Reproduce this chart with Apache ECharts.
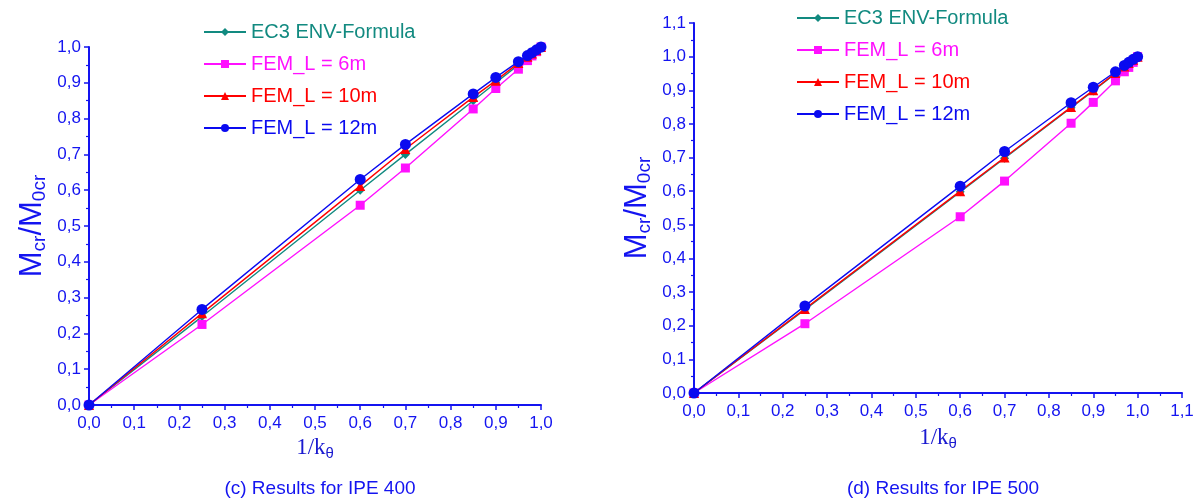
<!DOCTYPE html>
<html>
<head>
<meta charset="utf-8">
<script src="https://cdn.jsdelivr.net/npm/echarts@6/dist/echarts.min.js"></script>
<style>
  html, body { margin: 0; padding: 0; background: #fff; }
  #chart { width: 1198px; height: 502px; }
</style>
</head>
<body>
<div id="chart"></div>
<script>
// Normalised rotational stiffness 1/kθ
const kInv = [0, 0.25, 0.6, 0.7, 0.85, 0.9, 0.95, 0.97, 0.98, 0.99, 1.0];

// IPE 400 — Mcr/M0cr
const ipe400_ec3  = [0, 0.247, 0.600, 0.700, 0.850, 0.900, 0.950, 0.970, 0.980, 0.990, 1.0];
const ipe400_fem6 = [0, 0.225, 0.558, 0.662, 0.827, 0.884, 0.938, 0.962, 0.975, 0.987, 1.0];
const ipe400_fem10 = [0, 0.256, 0.612, 0.715, 0.860, 0.906, 0.955, 0.973, 0.982, 0.991, 1.0];
const ipe400_fem12 = [0, 0.267, 0.630, 0.728, 0.869, 0.915, 0.959, 0.976, 0.984, 0.992, 1.0];

// IPE 500 — Mcr/M0cr
const ipe500_ec3  = [0, 0.248, 0.598, 0.698, 0.848, 0.898, 0.950, 0.970, 0.980, 0.990, 1.0];
const ipe500_fem6 = [0, 0.206, 0.524, 0.630, 0.802, 0.864, 0.928, 0.955, 0.968, 0.983, 1.0];
const ipe500_fem10 = [0, 0.250, 0.600, 0.700, 0.850, 0.900, 0.951, 0.971, 0.981, 0.991, 1.0];
const ipe500_fem12 = [0, 0.259, 0.615, 0.718, 0.863, 0.909, 0.955, 0.974, 0.983, 0.992, 1.0];

const seriesNames = ['EC3 ENV-Formula', 'FEM_L = 6m', 'FEM_L = 10m', 'FEM_L = 12m'];
const captions = ['(c) Results for IPE 400', '(d) Results for IPE 500'];

const COLORS = ['#128a80', '#ff10ff', '#ff0000', '#0a0af0'];
const SYMBOLS = ['diamond', 'rect', 'triangle', 'circle'];
const SYMBOL_SIZE = [9, 9, 10, 11];
const BLUE = '#1414f0';
const FONT = '"Liberation Sans", Arial, sans-serif';

const pair = (ys) => kInv.map((x, i) => [x, ys[i]]);
const comma = (v) => v.toFixed(1).replace('.', ',');

function makeAxes(idx, max, xGap) {
  const common = {
    gridIndex: idx,
    min: 0, max: max, interval: 0.1,
    axisLine: { show: true, onZero: false, lineStyle: { color: BLUE, width: 2 } },
    axisTick: { show: true, inside: false, length: 5, lineStyle: { color: BLUE, width: 1.5 } },
    minorTick: { show: true, splitNumber: 2, length: 3, lineStyle: { color: BLUE, width: 1.2 } },
    splitLine: { show: false },
    axisLabel: { color: BLUE, fontFamily: FONT, fontSize: 17, formatter: comma }
  };
  const x = Object.assign({}, common, {
    type: 'value',
    name: '{n|1/k}{t|θ}',
    nameLocation: 'middle',
    nameGap: xGap,
    nameTextStyle: {
      rich: {
        n: { fontFamily: '"Liberation Serif", "Times New Roman", serif', fontSize: 23, color: '#1a1ad0', lineHeight: 26 },
        t: { fontFamily: FONT, fontSize: 15, color: '#1a1ad0', lineHeight: 14, verticalAlign: 'bottom' }
      }
    },
    axisLabel: Object.assign({}, common.axisLabel, { margin: 10 })
  });
  const y = Object.assign({}, common, {
    type: 'value',
    name: '{m|M}{s|cr}{m|/M}{s|0cr}',
    nameLocation: 'middle',
    nameRotate: 90,
    nameGap: 40,
    nameTextStyle: {
      rich: {
        m: { fontFamily: FONT, fontSize: 31, color: BLUE, lineHeight: 34 },
        s: { fontFamily: FONT, fontSize: 19, color: BLUE, lineHeight: 17, verticalAlign: 'bottom' }
      }
    },
    axisLabel: Object.assign({}, common.axisLabel, { margin: 8 })
  });
  return { x, y };
}

const a0 = makeAxes(0, 1.0, 28);
const a1 = makeAxes(1, 1.1, 32);

function makeSeries(idx, datasets) {
  return datasets.map((ys, i) => ({
    type: 'line',
    name: seriesNames[i],
    xAxisIndex: idx, yAxisIndex: idx,
    data: pair(ys),
    symbol: SYMBOLS[i],
    symbolSize: SYMBOL_SIZE[i],
    showAllSymbol: true,
    lineStyle: { color: COLORS[i], width: 1.4 },
    itemStyle: { color: COLORS[i] },
    emphasis: { disabled: true },
    animation: false,
    z: 2 + i
  }));
}

function makeLegend(left, top, gap) {
  return {
    orient: 'vertical',
    left: left, top: top,
    itemWidth: 42, itemHeight: 10,
    itemGap: gap,
    selectedMode: false,
    textStyle: { fontFamily: FONT, fontSize: 20 },
    data: seriesNames.map((n, i) => ({ name: n, textStyle: { color: COLORS[i] } }))
  };
}

const chart = echarts.init(document.getElementById('chart'), null, { renderer: 'canvas' });
chart.setOption({
  backgroundColor: '#ffffff',
  animation: false,
  grid: [
    { left: 89, top: 47, width: 452, height: 358 },
    { left: 694, top: 23, width: 488, height: 370 }
  ],
  xAxis: [a0.x, a1.x],
  yAxis: [a0.y, a1.y],
  legend: [makeLegend(198, 17, 12), makeLegend(791, 3, 12)],
  title: [
    { text: captions[0], left: 315, top: 474, textAlign: 'center',
      textStyle: { fontFamily: FONT, fontSize: 19, fontWeight: 'normal', color: BLUE } },
    { text: captions[1], left: 938, top: 474, textAlign: 'center',
      textStyle: { fontFamily: FONT, fontSize: 19, fontWeight: 'normal', color: BLUE } }
  ],
  series: [].concat(
    makeSeries(0, [ipe400_ec3, ipe400_fem6, ipe400_fem10, ipe400_fem12]),
    makeSeries(1, [ipe500_ec3, ipe500_fem6, ipe500_fem10, ipe500_fem12])
  )
});
</script>
</body>
</html>
